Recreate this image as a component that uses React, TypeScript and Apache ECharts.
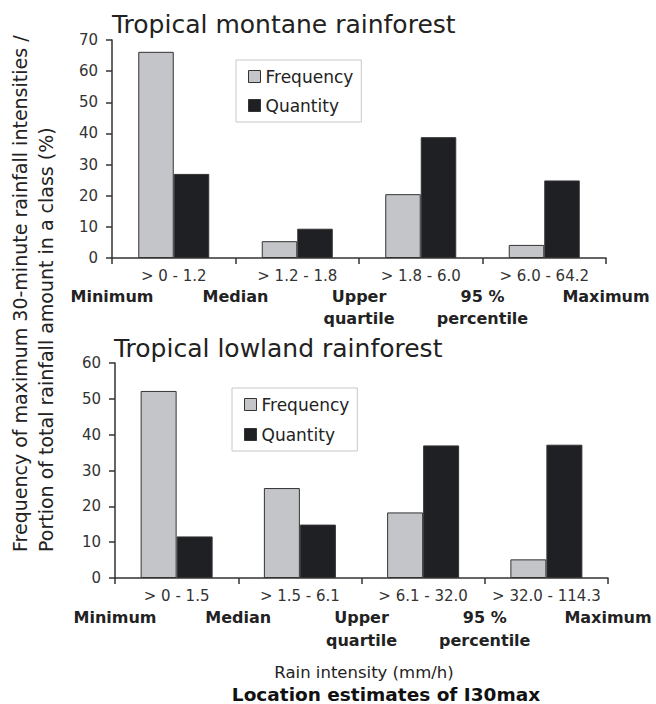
import React, { useEffect, useRef } from "react";
import * as echarts from "echarts";

const FONT = "DejaVu Sans";

const montaneCategories = ["> 0 - 1.2", "> 1.2 - 1.8", "> 1.8 - 6.0", "> 6.0 - 64.2"];
const lowlandCategories = ["> 0 - 1.5", "> 1.5 - 6.1", "> 6.1 - 32.0", "> 32.0 - 114.3"];
const boundaryLabels = ["Minimum", "Median", "Upper\nquartile", "95 %\npercentile", "Maximum"];

const montaneFrequency = [66.2, 5.4, 20.5, 4.2];
const montaneQuantity = [27.0, 9.4, 38.8, 24.9];
const lowlandFrequency = [52.2, 25.1, 18.3, 5.2];
const lowlandQuantity = [11.6, 14.9, 37.0, 37.2];

const montaneTitle = "Tropical montane rainforest";
const lowlandTitle = "Tropical lowland rainforest";
const yNameLine1 = "Frequency of maximum 30-minute rainfall intensities /";
const yNameLine2 = "Portion of total rainfall amount in a class (%)";
const xName1 = "Rain intensity (mm/h)";
const xName2 = "Location estimates of I30max";

const FREQ_COLOR = "#c4c5c8";
const QTY_COLOR = "#1f2023";
const AXIS_COLOR = "#333333";

export default function App() {
  const ref = useRef<HTMLDivElement>(null);

  useEffect(() => {
    if (!ref.current) return;
    const chart = echarts.init(ref.current, null, { renderer: "svg" });

    const axisLine = { show: true, lineStyle: { color: AXIS_COLOR, width: 1.5 } };
    const valueAxis = (gridIndex: number, max: number) => ({
      type: "value",
      gridIndex,
      min: 0,
      max,
      interval: 10,
      axisLine,
      axisTick: { show: true, length: 6, lineStyle: { color: AXIS_COLOR, width: 1.5 } },
      splitLine: { show: false },
      axisLabel: { fontFamily: FONT, fontSize: 15, color: "#333", margin: 14 },
    });
    const catAxis = (gridIndex: number, data: string[]) => ({
      type: "category",
      gridIndex,
      data,
      position: "bottom",
      axisLine,
      axisTick: { show: true, length: 6, lineStyle: { color: AXIS_COLOR, width: 1.5 } },
      axisLabel: { fontFamily: FONT, fontSize: 15, color: "#333", margin: 10, interval: 0 },
    });
    const boundaryAxis = (gridIndex: number, margin: number, lineHeight: number) => ({
      type: "category",
      gridIndex,
      data: boundaryLabels,
      position: "bottom",
      offset: 0,
      boundaryGap: false,
      axisLine: { show: false },
      axisTick: { show: false },
      splitLine: { show: false },
      axisLabel: {
        interval: 0,
        margin,
        fontFamily: FONT,
        fontSize: 16,
        fontWeight: "bold",
        lineHeight,
        color: "#222",
      },
    });
    const bar = (name: string, data: number[], color: string, xi: number, yi: number, w: number) => ({
      name,
      type: "bar",
      xAxisIndex: xi,
      yAxisIndex: yi,
      data,
      barWidth: w,
      barGap: "0%",
      itemStyle: { color, borderColor: "#333", borderWidth: 1 },
    });
    const legend = (left: number, top: number, gap: number) => ({
      left,
      top,
      orient: "vertical",
      data: ["Frequency", "Quantity"],
      icon: "rect",
      itemWidth: 12,
      itemHeight: 12,
      itemGap: gap,
      padding: [8, 8, 8, 12],
      borderColor: "#c8c8c8",
      borderWidth: 1,
      backgroundColor: "#fff",
      itemStyle: { borderColor: "#333", borderWidth: 1 },
      textStyle: { fontFamily: FONT, fontSize: 17, color: "#222" },
    });

    chart.setOption({
      animation: false,
      backgroundColor: "#fff",
      title: [
        {
          text: montaneTitle,
          left: 112,
          top: 12,
          padding: 0,
          textStyle: { fontFamily: FONT, fontSize: 25, fontWeight: "normal", color: "#222" },
        },
        {
          text: lowlandTitle,
          left: 114,
          top: 336,
          padding: 0,
          textStyle: { fontFamily: FONT, fontSize: 25, fontWeight: "normal", color: "#222" },
        },
      ],
      legend: [legend(236, 60, 12), legend(232, 388, 13)],
      grid: [
        { left: 112, top: 40, width: 494, height: 218 },
        { left: 115, top: 363, width: 493, height: 215 },
      ],
      xAxis: [
        catAxis(0, montaneCategories),
        boundaryAxis(0, 27, 22),
        catAxis(1, lowlandCategories),
        boundaryAxis(1, 28, 23),
      ],
      yAxis: [valueAxis(0, 70), valueAxis(1, 60)],
      series: [
        bar("Frequency", montaneFrequency, FREQ_COLOR, 0, 0, 35.5),
        bar("Quantity", montaneQuantity, QTY_COLOR, 0, 0, 35.5),
        bar("Frequency", lowlandFrequency, FREQ_COLOR, 2, 1, 36),
        bar("Quantity", lowlandQuantity, QTY_COLOR, 2, 1, 36),
      ],
      graphic: [
        {
          type: "text",
          x: 20,
          y: 552,
          rotation: Math.PI / 2,
          style: {
            text: yNameLine1,
            fontFamily: FONT,
            fontSize: 19,
            fill: "#222",
            textAlign: "left",
            textVerticalAlign: "middle",
          },
        },
        {
          type: "text",
          x: 46,
          y: 552,
          rotation: Math.PI / 2,
          style: {
            text: yNameLine2,
            fontFamily: FONT,
            fontSize: 19,
            fill: "#222",
            textAlign: "left",
            textVerticalAlign: "middle",
          },
        },
        {
          type: "text",
          x: 364,
          y: 672,
          style: {
            text: xName1,
            fontFamily: FONT,
            fontSize: 16.5,
            fill: "#222",
            textAlign: "center",
            textVerticalAlign: "middle",
          },
        },
        {
          type: "text",
          x: 386,
          y: 694,
          style: {
            text: xName2,
            fontFamily: FONT,
            fontSize: 18.5,
            fontWeight: "bold",
            fill: "#111",
            textAlign: "center",
            textVerticalAlign: "middle",
          },
        },
      ],
    });

    return () => chart.dispose();
  }, []);

  return (
    <div
      ref={ref}
      style={{ position: "fixed", left: 0, top: 0, width: 656, height: 704, background: "#fff" }}
    />
  );
}
